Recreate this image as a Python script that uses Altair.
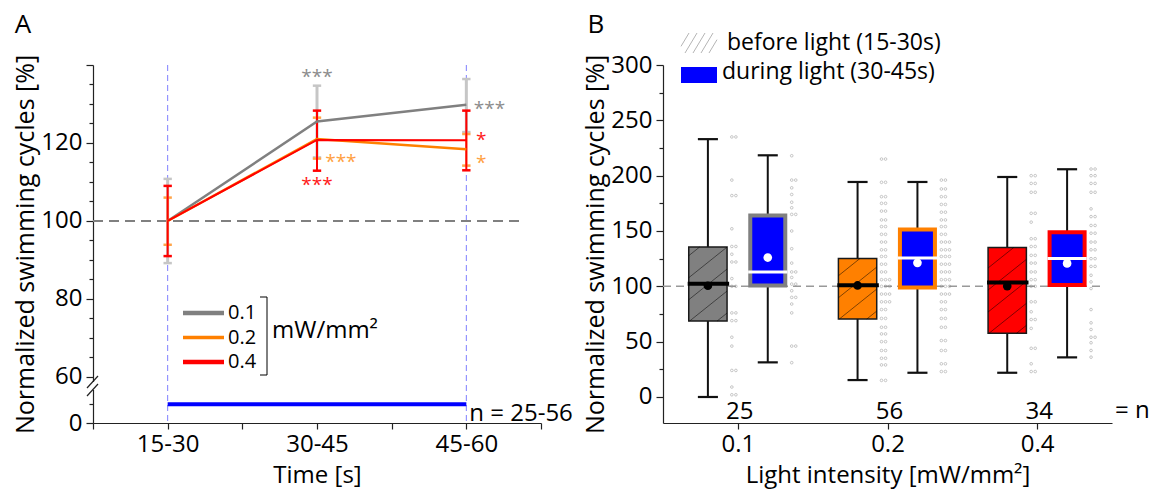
import altair as alt
import numpy as np
import pandas as pd

FONT = "Open Sans"
PW, PH = 448, 358

# ---------------- Panel A values ----------------
time_labels = ["15-30", "30-45", "45-60"]
intensity_labels = ["0.1", "0.2", "0.4"]
line_colors = ["#808080", "#ff8000", "#ff0000"]
errbar_colors = ["#c6c6c6", "#ffa54a", "#ff0000"]
star_colors = ["#8c8c8c", "#ffa040", "#ff1a1a"]
line_widths = [2.5, 2.5, 2.0]
errbar_widths = [3.0, 2.0, 2.0]

mean_01 = [100.0, 125.5, 129.8]
mean_02 = [100.0, 121.0, 118.4]
mean_04 = [100.0, 120.8, 120.7]
upper_01 = [110.8, 134.7, 136.4]
lower_01 = [89.2, 116.3, 122.8]
upper_02 = [106.0, 126.5, 122.3]
lower_02 = [93.9, 116.0, 114.2]
upper_04 = [109.0, 128.3, 128.3]
lower_04 = [91.0, 112.9, 113.0]

sig_labels = ["***", "***", "*", "*", "***", "***"]
sig_series = ["0.1", "0.1", "0.4", "0.2", "0.2", "0.4"]
sig_time = [2.0, 3.155, 3.1, 3.1, 2.16, 2.0]
sig_level = [137.9, 129.8, 121.8, 115.8, 116.2, 110.3]

light_period = [1, 3]          # light on from 15-30 to 45-60 (time index)
light_level = 53.0             # drawn in the broken part of the axis
zero_pos = 48.2                # where "0" sits below the axis break
n_range_text = "n = 25-56"
unit_text = "mW/mm\u00b2"

# ---------------- Panel B values ----------------
b_n = ["25", "56", "34"]
before_lo = [0.0, 15.3, 21.9]
before_q1 = [68.6, 70.4, 57.5]
before_med = [102.3, 101.0, 103.5]
before_q3 = [135.6, 125.2, 135.1]
before_hi = [233.0, 194.3, 198.8]
before_mean = [100.5, 100.8, 100.2]
during_lo = [31.3, 21.9, 35.8]
during_q1 = [100.8, 99.0, 101.3]
during_med = [113.0, 125.7, 125.2]
during_q3 = [164.0, 151.3, 148.9]
during_hi = [218.4, 194.3, 205.8]
during_mean = [126.0, 121.2, 120.7]

dots_01_before = [235, 235, 196, 182, 182, 152, 136, 136, 129, 122, 122, 107, 100, 100,
                  76, 76, 69, 69, 54, 46, 24, 24, 9, 2, 2]
dots_01_during = [218, 196, 196, 189, 183, 176, 171, 165, 165, 150, 134, 121, 113, 113,
                  108, 102, 102, 96, 90, 90, 84, 76, 46, 46, 31]
dots_02_before = [215, 215, 194, 194, 181, 181, 175, 175, 168, 168, 160, 160, 154, 154,
                  147, 147, 140, 140, 133, 133, 127, 127, 120, 120, 113, 113, 106, 106,
                  106, 100, 100, 100, 93, 93, 93, 86, 86, 86, 79, 79, 71, 71, 63, 63,
                  57, 57, 50, 50, 42, 42, 35, 35, 29, 29, 15, 15]
dots_02_during = [196, 196, 188, 188, 181, 181, 174, 174, 167, 167, 160, 160, 154, 154,
                  147, 147, 140, 140, 140, 133, 133, 133, 127, 127, 127, 120, 120, 120,
                  113, 113, 113, 106, 106, 106, 100, 100, 100, 93, 93, 93, 86, 86, 79,
                  79, 71, 71, 63, 63, 51, 51, 42, 42, 30, 30, 23, 23]
dots_04_before = [200, 200, 193, 193, 185, 185, 166, 166, 158, 143, 143, 136, 136, 128,
                  128, 121, 121, 113, 113, 106, 106, 100, 100, 86, 86, 77, 70, 70, 62,
                  44, 44, 30, 23, 23]
dots_04_during = [206, 206, 200, 200, 193, 193, 185, 185, 170, 163, 163, 155, 155, 148,
                  148, 140, 140, 133, 133, 125, 125, 118, 118, 110, 104, 98, 79, 67,
                  61, 54, 54, 49, 42, 36]

legend_before_text = "before light (15-30s)"
legend_during_text = "during light (30-45s)"

# ---------------- Panel A chart ----------------
series_means = [mean_01, mean_02, mean_04]
series_upper = [upper_01, upper_02, upper_04]
series_lower = [lower_01, lower_02, lower_04]

xA_scale = alt.Scale(domain=[0.5, 3.5], nice=False, zero=False)
yA_scale = alt.Scale(domain=[zero_pos, 140], nice=False, zero=False)

time_expr = " : ".join(f"datum.value == {i + 1} ? '{t}'" for i, t in enumerate(time_labels)) + " : ''"
axisXA = alt.Axis(values=[0.5, 1, 1.5, 2, 2.5, 3, 3.5], labelExpr=time_expr, title="Time [s]",
                  tickSize=6, labelPadding=3, titlePadding=7, titleFontSize=24, labelOverlap=False,
                  labelFlush=False, grid=False)
yA_values = [zero_pos, 53] + list(range(60, 141, 5))
axisYA = alt.Axis(values=yA_values,
                  labelExpr="datum.value < 50 ? '0' : (datum.value <= 120 && datum.value % 20 == 0 ? datum.label : '')",
                  tickSize={"condition": {"test": "datum.value < 50 || datum.value % 20 == 0", "value": 7}, "value": 4},
                  title="Normalized swimming cycles [%]", titlePadding=2, labelPadding=4,
                  labelOverlap=False, labelFlush=False, grid=False)


def XA(field):
    return alt.X(field, type="quantitative", scale=xA_scale, axis=axisXA)


def YA(field):
    return alt.Y(field, type="quantitative", scale=yA_scale, axis=axisYA)


one = pd.DataFrame({"a": [0]})

layersA = []
df_vl = pd.DataFrame({"t": light_period})
layersA.append(alt.Chart(df_vl).mark_rule(color="#7f7fff", strokeDash=[6, 4], strokeWidth=1)
               .encode(x=XA("t"), y=alt.value(0), y2=alt.value(PH)))
df_ref = pd.DataFrame({"v": [100]})
layersA.append(alt.Chart(df_ref).mark_rule(color="#808080", strokeDash=[10, 6], strokeWidth=2)
               .encode(y=YA("v"), x=alt.value(0), x2=alt.value(PW - 18)))
df_light = pd.DataFrame({"a": [light_period[0]], "b": [light_period[1]], "v": [light_level]})
layersA.append(alt.Chart(df_light).mark_rule(color="#0000ff", strokeWidth=4)
               .encode(x=XA("a"), x2="b", y=YA("v")))

series_frames = []
for i, s in enumerate(intensity_labels):
    series_frames.append(pd.DataFrame({"t": [1, 2, 3], "m": series_means[i],
                                       "lo": series_lower[i], "hi": series_upper[i]}))
for i, s in enumerate(intensity_labels):
    d = series_frames[i]
    layersA.append(alt.Chart(d).mark_rule(color=errbar_colors[i], strokeWidth=errbar_widths[i])
                   .encode(x=XA("t"), y=YA("lo"), y2="hi"))
    caps = (alt.Chart(d).transform_fold(["lo", "hi"], as_=["k", "v"])
            .transform_calculate(c0="datum.t - 0.028", c1="datum.t + 0.028")
            .mark_rule(color=errbar_colors[i], strokeWidth=2.5)
            .encode(x=XA("c0"), x2="c1", y=YA("v")))
    layersA.append(caps)
for i, s in enumerate(intensity_labels):
    layersA.append(alt.Chart(series_frames[i]).mark_line(color=line_colors[i], strokeWidth=line_widths[i])
                   .encode(x=XA("t"), y=YA("m")))
df_sig = pd.DataFrame({"txt": sig_labels, "s": sig_series, "t": sig_time, "v": sig_level})
for i, s in enumerate(intensity_labels):
    layersA.append(alt.Chart(df_sig).transform_filter(alt.datum.s == s)
                   .mark_text(font=FONT, fontSize=19, color=star_colors[i], align="center",
                              baseline="alphabetic", dy=10)
                   .encode(x=XA("t"), y=YA("v"), text="txt:N"))
df_n = pd.DataFrame({"t": [light_period[1] + 0.02], "txt": [n_range_text]})
layersA.append(alt.Chart(df_n).mark_text(font=FONT, fontSize=24, align="left", baseline="alphabetic")
               .encode(x=XA("t"), y=alt.value(356), text="txt:N"))
for i, s in enumerate(intensity_labels):
    yy = 248 + 24.5 * i
    layersA.append(alt.Chart(one).mark_rule(color=line_colors[i], strokeWidth=4.5 if i != 1 else 3.5)
                   .encode(x=alt.value(90), x2=alt.value(131), y=alt.value(yy)))
    layersA.append(alt.Chart(pd.DataFrame({"txt": [s]}))
                   .mark_text(font=FONT, fontSize=20, align="left", baseline="middle")
                   .encode(x=alt.value(135), y=alt.value(yy), text="txt:N"))
layersA.append(alt.Chart(one).mark_rule(color="black", strokeWidth=1)
               .encode(x=alt.value(174), y=alt.value(232), y2=alt.value(310)))
layersA.append(alt.Chart(one).mark_rule(color="black", strokeWidth=1)
               .encode(x=alt.value(167), x2=alt.value(174), y=alt.value(232)))
layersA.append(alt.Chart(one).mark_rule(color="black", strokeWidth=1)
               .encode(x=alt.value(167), x2=alt.value(174), y=alt.value(310)))
layersA.append(alt.Chart(pd.DataFrame({"txt": [unit_text]}))
               .mark_text(font=FONT, fontSize=24, align="left", baseline="middle")
               .encode(x=alt.value(179), y=alt.value(266), text="txt:N"))
layersA.append(alt.Chart(one).mark_rect(color="white")
               .encode(x=alt.value(-2), x2=alt.value(2), y=alt.value(317), y2=alt.value(325)))
layersA.append(alt.Chart(one).mark_rule(color="#222", strokeWidth=1.2)
               .encode(x=alt.value(-6), y=alt.value(323), x2=alt.value(5), y2=alt.value(311)))
layersA.append(alt.Chart(one).mark_rule(color="#222", strokeWidth=1.2)
               .encode(x=alt.value(-6), y=alt.value(331), x2=alt.value(5), y2=alt.value(319)))
layersA.append(alt.Chart(pd.DataFrame({"txt": ["A"]}))
               .mark_text(font=FONT, fontSize=26, align="center", baseline="middle")
               .encode(x=alt.value(-70), y=alt.value(-40), text="txt:N"))

panelA = alt.layer(*layersA).properties(width=PW, height=PH)

# ---------------- Panel B chart ----------------
PWB = 449
yB_min = -23.5
xB_scale = alt.Scale(domain=[0.5, 3.5], nice=False, zero=False)
yB_scale = alt.Scale(domain=[yB_min, 300], nice=False, zero=False)
int_expr = " : ".join(f"datum.value == {i + 1} ? '{t}'" for i, t in enumerate(intensity_labels)) + " : ''"
axisXB = alt.Axis(values=[1, 2, 3], labelExpr=int_expr, title="Light intensity [mW/mm\u00b2]",
                  tickSize=6, labelPadding=3, titlePadding=7, titleFontSize=24, labelOverlap=False,
                  labelFlush=False, grid=False)
axisYB = alt.Axis(values=list(range(0, 301, 25)),
                  labelExpr="datum.value % 50 == 0 ? datum.label : ''",
                  tickSize={"condition": {"test": "datum.value % 50 == 0", "value": 7}, "value": 4},
                  title="Normalized swimming cycles [%]", titlePadding=2, labelPadding=4,
                  labelOverlap=False, labelFlush=False, grid=False)


def XB(field):
    return alt.X(field, type="quantitative", scale=xB_scale, axis=axisXB)


def YB(field):
    return alt.Y(field, type="quantitative", scale=yB_scale, axis=axisYB)


group_color = alt.Scale(domain=intensity_labels, range=line_colors)
box_rows = []
for i, g in enumerate(intensity_labels):
    box_rows.append(dict(g=g, phase="before", pos=i + 1, lo=before_lo[i], q1=before_q1[i],
                         med=before_med[i], q3=before_q3[i], hi=before_hi[i], mean=before_mean[i]))
    box_rows.append(dict(g=g, phase="during", pos=i + 1, lo=during_lo[i], q1=during_q1[i],
                         med=during_med[i], q3=during_q3[i], hi=during_hi[i], mean=during_mean[i]))
df_box = pd.DataFrame(box_rows)
SHIFT = 0.2
df_box["xc"] = df_box["pos"] + np.where(df_box["phase"] == "before", -SHIFT, SHIFT)

sx = PWB / 3.0
sy = PH / (300 - yB_min)
half_b = 0.128
hatch = []
for i in range(3):
    xl = (i + 1 - SHIFT) - half_b
    wpx = 2 * half_b * sx
    hpx = (before_q3[i] - before_q1[i]) * sy
    slope, step = 0.8, 22.0
    c = -slope * wpx + 8
    while c < hpx:
        xs = max(0.0, -c / slope)
        xe = min(wpx, (hpx - c) / slope)
        if xe > xs:
            hatch.append(dict(x1=xl + xs / sx, y1=before_q1[i] + (c + slope * xs) / sy,
                              x2=xl + xe / sx, y2=before_q1[i] + (c + slope * xe) / sy))
        c += step
df_hatch = pd.DataFrame(hatch)

dot_rows = []
dot_sets = [(0, "before", dots_01_before), (0, "during", dots_01_during),
            (1, "before", dots_02_before), (1, "during", dots_02_during),
            (2, "before", dots_04_before), (2, "during", dots_04_during)]
for gi, ph, vals in dot_sets:
    for v in vals:
        dot_rows.append(dict(set=f"{gi}{ph}", pos=gi + 1, phase=ph, v=v))
df_dots = pd.DataFrame(dot_rows)
df_dots["k"] = df_dots.groupby(["set", "v"]).cumcount()
df_dots["xd"] = (df_dots["pos"] + np.where(df_dots["phase"] == "before", -SHIFT, SHIFT)
                 + 0.16 + df_dots["k"] * 0.027)

layersB = []
layersB.append(alt.Chart(df_ref).mark_rule(color="#999999", strokeDash=[8, 5], strokeWidth=1.5)
               .encode(y=YB("v"), x=alt.value(0), x2=alt.value(PWB - 7)))
layersB.append(alt.Chart(df_dots).mark_point(shape="circle", filled=False, size=7, color="#808080",
                                             strokeWidth=0.6)
               .encode(x=XB("xd"), y=YB("v")))
layersB.append(alt.Chart(df_box).mark_rule(color="#111", strokeWidth=2)
               .encode(x=XB("xc"), y=YB("lo"), y2="hi"))
layersB.append(alt.Chart(df_box).transform_fold(["lo", "hi"], as_=["k", "v"])
               .transform_calculate(c0="datum.xc - 0.067", c1="datum.xc + 0.067")
               .mark_rule(color="#111", strokeWidth=2.2)
               .encode(x=XB("c0"), x2="c1", y=YB("v")))
before = alt.Chart(df_box).transform_filter(alt.datum.phase == "before")
during = alt.Chart(df_box).transform_filter(alt.datum.phase == "during")
layersB.append(before.transform_calculate(b0=f"datum.xc - {half_b}", b1=f"datum.xc + {half_b}")
               .mark_rect(stroke="#1a1a1a", strokeWidth=1.5)
               .encode(x=XB("b0"), x2="b1", y=YB("q1"), y2="q3",
                       fill=alt.Fill("g:N", scale=group_color, legend=None)))
layersB.append(alt.Chart(df_hatch).mark_rule(color="black", opacity=0.55, strokeWidth=0.9)
               .encode(x=XB("x1"), y=YB("y1"), x2="x2", y2="y2"))
layersB.append(during.transform_calculate(b0="datum.xc - 0.117", b1="datum.xc + 0.117")
               .mark_rect(fill="#0000ff", strokeWidth=4)
               .encode(x=XB("b0"), x2="b1", y=YB("q1"), y2="q3",
                       stroke=alt.Stroke("g:N", scale=group_color, legend=None)))
layersB.append(before.transform_calculate(m0="datum.xc - 0.135", m1="datum.xc + 0.142")
               .mark_rule(color="black", strokeWidth=4)
               .encode(x=XB("m0"), x2="m1", y=YB("med")))
layersB.append(during.transform_calculate(m0="datum.xc - 0.131", m1="datum.xc + 0.131")
               .mark_rule(color="white", strokeWidth=3)
               .encode(x=XB("m0"), x2="m1", y=YB("med")))
layersB.append(before.mark_circle(color="black", size=75, opacity=1)
               .encode(x=XB("xc"), y=YB("mean")))
layersB.append(during.mark_circle(color="white", size=75, opacity=1)
               .encode(x=XB("xc"), y=YB("mean")))
df_bn = pd.DataFrame({"pos": [1, 2, 3], "txt": b_n})
layersB.append(alt.Chart(df_bn).mark_text(font=FONT, fontSize=24, align="center", baseline="middle", dx=2)
               .encode(x=XB("pos"), y=alt.value(347), text="txt:N"))
layersB.append(alt.Chart(pd.DataFrame({"txt": ["= n"]}))
               .mark_text(font=FONT, fontSize=24, align="left", baseline="middle")
               .encode(x=alt.value(452), y=alt.value(346), text="txt:N"))
for k in range(5):
    x0 = 14 + 8 * k
    xa, xb = max(x0, 18), min(x0 + 12, 54)
    layersB.append(alt.Chart(one).mark_rule(color="#b5b5b5", strokeWidth=1)
                   .encode(x=alt.value(xa), y=alt.value(-12 - 20 * (xa - x0) / 12.0),
                           x2=alt.value(xb), y2=alt.value(-12 - 20 * (xb - x0) / 12.0)))
layersB.append(alt.Chart(one).mark_rect(color="#0000ff")
               .encode(x=alt.value(18), x2=alt.value(54), y=alt.value(2), y2=alt.value(18)))
layersB.append(alt.Chart(pd.DataFrame({"txt": [legend_before_text]}))
               .mark_text(font=FONT, fontSize=23, align="left", baseline="middle")
               .encode(x=alt.value(64), y=alt.value(-22), text="txt:N"))
layersB.append(alt.Chart(pd.DataFrame({"txt": [legend_during_text]}))
               .mark_text(font=FONT, fontSize=23, align="left", baseline="middle")
               .encode(x=alt.value(59), y=alt.value(7), text="txt:N"))
layersB.append(alt.Chart(pd.DataFrame({"txt": ["B"]}))
               .mark_text(font=FONT, fontSize=26, align="center", baseline="middle")
               .encode(x=alt.value(-67), y=alt.value(-40), text="txt:N"))

panelB = alt.layer(*layersB).properties(width=PWB, height=PH)

chart = (alt.hconcat(panelA, panelB, spacing=122, bounds="flush")
         .properties(padding={"left": 5, "top": 4, "right": 2, "bottom": 6})
         .configure_axis(labelFont=FONT, titleFont=FONT, labelFontSize=24, titleFontSize=25,
                         titleFontWeight="normal", labelColor="black", titleColor="black",
                         domainColor="#222", tickColor="#222", domainWidth=1.2, tickWidth=1.2)
         .configure_view(stroke=None))

chart.save("out.html", embed_options={"renderer": "svg", "actions": False})
